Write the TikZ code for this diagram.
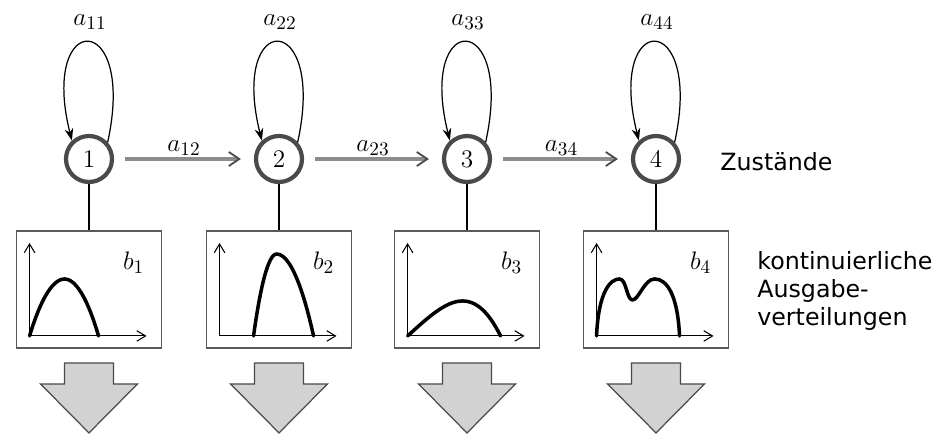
\documentclass[tikz,border=0pt]{standalone}
\usepackage{fontspec}
\newfontfamily\labelfont{DejaVu Sans}
\usetikzlibrary{arrows.meta,calc}
\definecolor{ring}{HTML}{4A4A4A}
\definecolor{transgray}{HTML}{8C8C8C}
\definecolor{frame}{HTML}{5A5A5A}
\definecolor{outfill}{HTML}{D2D2D2}
\begin{document}
\begin{tikzpicture}[x=0.02cm,y=0.02cm,
  every node/.style={font=\fontsize{15}{18}\selectfont},
  state/.style={circle,draw=ring,line width=2.4pt,minimum size=0.92cm,inner sep=0pt},
  pdfbox/.style={rectangle,draw=frame,line width=1.1pt,minimum width=2.9cm,minimum height=2.34cm,inner sep=0pt},
  link/.style={draw=black,line width=0.6pt},
  loopline/.style={draw=black,line width=0.7pt,-{Stealth[length=7pt,width=5pt]}},
  trans/.style={draw=transgray,line width=2.2pt,shorten <=0.22cm,shorten >=0.26cm,
    -{Straight Barb[color=ring,length=6pt,width=8pt,line width=1pt]}},
  axis/.style={draw=black,line width=0.6pt,-{Straight Barb[length=5pt,width=6pt,line width=0.6pt]}},
  density/.style={draw=black,line width=2pt,line cap=round,line join=round},
  outarrow/.style={draw=ring,fill=outfill,line width=0.7pt,line join=miter},
  caption/.style={font=\labelfont\fontsize{13.5}{16}\selectfont,inner sep=0pt}
]
\useasboundingbox (0,0) rectangle (940,433);

\foreach \i/\x in {1/89,2/279,3/467,4/656}{
  % state, its self transition and its output density box
  \node[state] (s\i) at (\x,274) {$\i$};
  \node[pdfbox] (b\i) at (\x,143.5) {};
  \draw[link] (s\i) -- (b\i);
  \draw[loopline] (s\i.42) .. controls ($(s\i)+(48,150)$) and ($(s\i)+(-50,150)$) .. (s\i.133);
  \node (l\i) at (\x+1,411) {$a_{\i\i}$};
  \coordinate (o\i) at ($(b\i.south west)+(14,13)$);
  \draw[axis] (o\i) -- ++(0,93);
  \draw[axis] (o\i) -- ++(117,0);
  \node (bl\i) at ($(b\i.south west)+(118,86)$) {$b_{\i}$};
  % emission arrow below the box
  \draw[outarrow] ($(b\i.south)+(-24.5,-14)$) -- ++(49,0) -- ++(0,-21) -- ++(24,0)
    -- ($(b\i.south)+(0,-84)$) -- ++(-48.5,49) -- ++(24,0) -- cycle;
}

% transitions between neighbouring states
\draw[trans] (s1) -- node[above,inner sep=1pt] (t12) {$a_{12}$} (s2);
\draw[trans] (s2) -- node[above,inner sep=1pt] (t23) {$a_{23}$} (s3);
\draw[trans] (s3) -- node[above,inner sep=1pt] (t34) {$a_{34}$} (s4);

% output densities
\draw[density] (o1) parabola bend ($(o1)+(35,57)$) ($(o1)+(69,0)$);
\draw[density] ($(o2)+(34,0)$) parabola bend ($(o2)+(57,82)$) ($(o2)+(94,0)$);
\draw[density] (o3) .. controls ($(o3)+(20,18)$) and ($(o3)+(38,35)$) .. ($(o3)+(55,35)$)
  .. controls ($(o3)+(72,35)$) and ($(o3)+(84,18)$) .. ($(o3)+(93,0)$);
\draw[density] (o4) .. controls ($(o4)+(2,45)$) and ($(o4)+(14,57)$) .. ($(o4)+(23,57)$)
  .. controls ($(o4)+(30,57)$) and ($(o4)+(30,36)$) .. ($(o4)+(36,36)$)
  .. controls ($(o4)+(42,36)$) and ($(o4)+(48,57)$) .. ($(o4)+(58,57)$)
  .. controls ($(o4)+(70,57)$) and ($(o4)+(81,42)$) .. ($(o4)+(83,0)$);

% captions
\node[caption,anchor=west] (zst) at (720,271) {Zustände};
\node[caption,anchor=north west,align=left] (aus) at (757,182)
  {kontinuierliche\\Ausgabe-\\verteilungen};
\end{tikzpicture}
\end{document}
